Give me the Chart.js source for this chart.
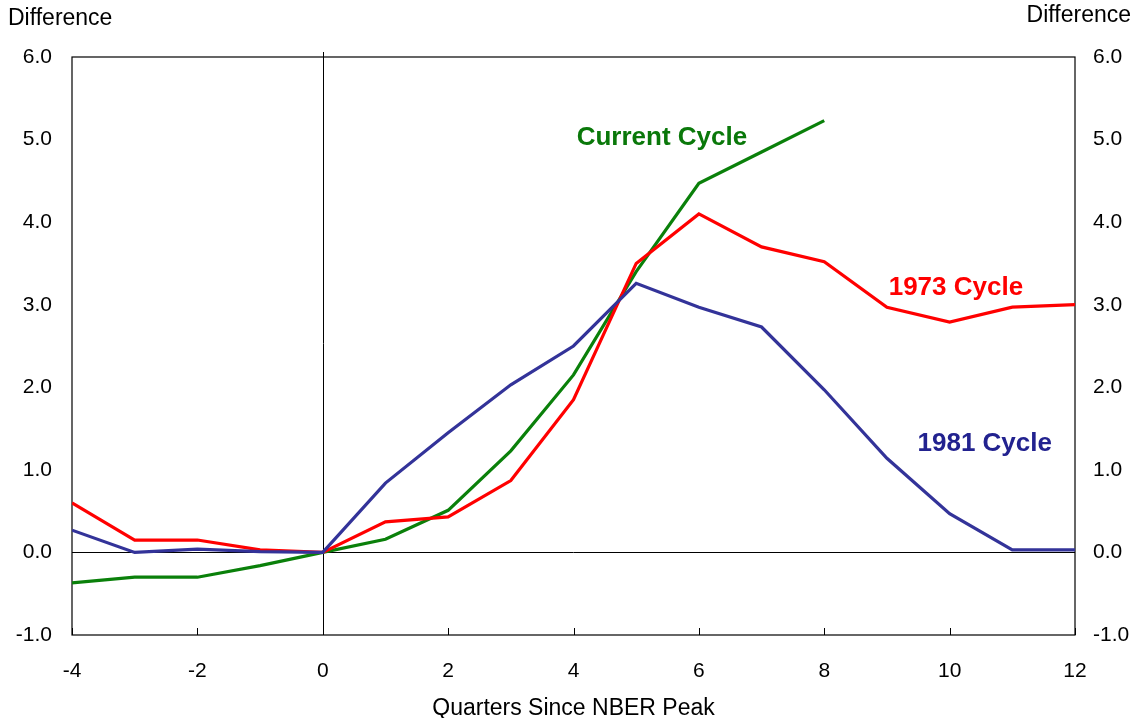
<!DOCTYPE html>
<html>
<head>
<meta charset="utf-8">
<script src="https://cdn.jsdelivr.net/npm/chart.js@4.4.0/dist/chart.umd.min.js"></script>
<style>
  html, body { margin: 0; padding: 0; background: #fff; }
  #wrap { position: relative; width: 1136px; height: 718px; }
</style>
</head>
<body>
<div id="wrap"><canvas id="cycleChart"></canvas></div>
<script>
// quarters since NBER peak
const quarters = [-4, -3, -2, -1, 0, 1, 2, 3, 4, 5, 6, 7, 8, 9, 10, 11, 12];
const cycle1973 = [0.60, 0.15, 0.15, 0.03, 0.00, 0.37, 0.43, 0.87, 1.85, 3.50, 4.10, 3.70, 3.52, 2.97, 2.79, 2.97, 3.00];
const cycle1981 = [0.27, 0.00, 0.04, 0.01, 0.00, 0.84, 1.45, 2.03, 2.50, 3.26, 2.97, 2.73, 1.97, 1.14, 0.47, 0.03, 0.03];
const currentCycle = [-0.37, -0.30, -0.30, -0.16, 0.00, 0.16, 0.51, 1.23, 2.15, 3.40, 4.47, 4.85, 5.23];
const xTicks = [-4, -2, 0, 2, 4, 6, 8, 10, 12];
const yTicks = [-1, 0, 1, 2, 3, 4, 5, 6];

const seriesLabels = [
    { text: "Current Cycle", x: 5.41, y: 5.02, color: "#0a780a" },
    { text: "1973 Cycle", x: 10.1, y: 3.21, color: "#ff0000" },
    { text: "1981 Cycle", x: 10.56, y: 1.32, color: "#22228f" },
];

const toPoints = (vals) => vals.map((v, i) => ({ x: quarters[i], y: v }));

const FONT = "'Liberation Sans', Arial, sans-serif";

const framePlugin = {
    id: "frame",
    beforeDatasetsDraw(chart) {
        const { ctx, chartArea: a, scales } = chart;
        const x = scales.x, y = scales.y;
        ctx.save();
        ctx.strokeStyle = "#000";
        ctx.lineWidth = 1.2;
        ctx.strokeRect(a.left, a.top, a.right - a.left, a.bottom - a.top);
        // zero line
        const y0 = Math.round(y.getPixelForValue(0)) + 0.5;
        ctx.lineWidth = 1;
        ctx.beginPath();
        ctx.moveTo(a.left, y0);
        ctx.lineTo(a.right, y0);
        // vertical line at peak
        const x0 = Math.round(x.getPixelForValue(0)) + 0.5;
        ctx.moveTo(x0, a.top - 5);
        ctx.lineTo(x0, a.bottom);
        // inward tick marks on x axis
        xTicks.forEach((t) => {
            const px = Math.round(x.getPixelForValue(t)) + 0.5;
            ctx.moveTo(px, a.bottom);
            ctx.lineTo(px, a.bottom - 7);
        });
        ctx.stroke();
        ctx.restore();
    },
    afterDatasetsDraw(chart) {
        const { ctx, scales } = chart;
        ctx.save();
        ctx.font = "bold 26px " + FONT;
        ctx.textAlign = "center";
        ctx.textBaseline = "middle";
        seriesLabels.forEach((l) => {
            ctx.fillStyle = l.color;
            ctx.fillText(l.text, scales.x.getPixelForValue(l.x), scales.y.getPixelForValue(l.y));
        });
        ctx.fillStyle = "#000";
        ctx.font = "23px " + FONT;
        ctx.textAlign = "left";
        ctx.fillText("Difference", 8, 19);
        ctx.textAlign = "right";
        ctx.fillText("Difference", 1131, 16);
        ctx.restore();
    },
};

const lineDs = (label, data, color) => ({
    label,
    data: toPoints(data),
    borderColor: color,
    backgroundColor: color,
    borderWidth: 3.2,
    pointRadius: 0,
    tension: 0,
    fill: false,
});

const yAxis = (position, padding, width) => ({
    type: "linear",
    position,
    min: -1,
    max: 6,
    afterBuildTicks: (s) => { s.ticks = yTicks.map((v) => ({ value: v })); },
    afterFit: (s) => { s.width = width; },
    grid: { display: false },
    border: { display: false },
    ticks: {
        padding,
        color: "#000",
        font: { family: FONT, size: 21 },
        callback: (v) => Number(v).toFixed(1),
    },
});

new Chart(document.getElementById("cycleChart"), {
    type: "line",
    data: {
        datasets: [
            lineDs("1981 Cycle", cycle1981, "#333399"),
            lineDs("1973 Cycle", cycle1973, "#ff0000"),
            lineDs("Current Cycle", currentCycle, "#0a800a"),
        ],
    },
    options: {
        responsive: true,
        maintainAspectRatio: false,
        animation: false,
        layout: { padding: { top: 57, bottom: 0, left: 0, right: 0 } },
        plugins: {
            legend: { display: false },
            tooltip: { enabled: false },
        },
        scales: {
            x: {
                type: "linear",
                min: -4,
                max: 12,
                afterBuildTicks: (s) => { s.ticks = xTicks.map((v) => ({ value: v })); },
                afterFit: (s) => { s.height = 83; },
                grid: { display: false },
                border: { display: false },
                ticks: {
                    padding: 16,
                    color: "#000",
                    font: { family: FONT, size: 21 },
                    maxRotation: 0,
                },
                title: {
                    display: true,
                    text: "Quarters Since NBER Peak",
                    color: "#000",
                    font: { family: FONT, size: 23 },
                    padding: { top: 6, bottom: -4 },
                },
            },
            y: yAxis("left", 12, 72),
            y2: yAxis("right", 10, 61),
        },
    },
    plugins: [framePlugin],
});
</script>
</body>
</html>
